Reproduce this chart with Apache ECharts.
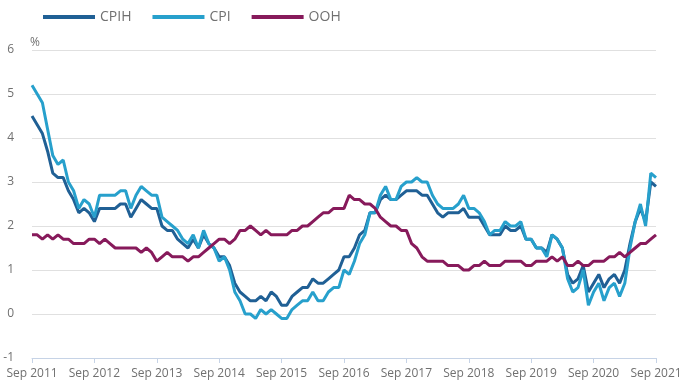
<!DOCTYPE html>
<html>
<head>
<meta charset="utf-8">
<script src="https://cdn.jsdelivr.net/npm/echarts@6/dist/echarts.min.js"></script>
<style>
html,body{margin:0;padding:0;background:#fff;}
#chart{width:699px;height:388px;}
</style>
</head>
<body>
<div id="chart"></div>
<script>
// Month categories Sep 2011 .. Sep 2021
const monthNames = ['Jan','Feb','Mar','Apr','May','Jun','Jul','Aug','Sep','Oct','Nov','Dec'];
const startYear = 2011, startMonth = 8, monthCount = 121;
const categories = [];
for (let i = 0; i < monthCount; i++) {
  const m = (startMonth + i) % 12;
  const y = startYear + Math.floor((startMonth + i) / 12);
  categories.push(monthNames[m] + ' ' + y);
}
const tickLabels = ['Sep 2011','Sep 2012','Sep 2013','Sep 2014','Sep 2015','Sep 2016','Sep 2017','Sep 2018','Sep 2019','Sep 2020','Sep 2021'];
const yTicks = [-1, 0, 1, 2, 3, 4, 5, 6];

const cpih = [
  4.5, 4.3, 4.1, 3.7,
  3.2, 3.1, 3.1, 2.8, 2.6, 2.3, 2.4, 2.3, 2.1, 2.4, 2.4, 2.4,
  2.4, 2.5, 2.5, 2.2, 2.4, 2.6, 2.5, 2.4, 2.4, 2.0, 1.9, 1.9,
  1.7, 1.6, 1.5, 1.7, 1.5, 1.8, 1.6, 1.5, 1.3, 1.3, 1.1, 0.7,
  0.5, 0.4, 0.3, 0.3, 0.4, 0.3, 0.5, 0.4, 0.2, 0.2, 0.4, 0.5,
  0.6, 0.6, 0.8, 0.7, 0.7, 0.8, 0.9, 1.0, 1.3, 1.3, 1.5, 1.8,
  1.9, 2.3, 2.3, 2.6, 2.7, 2.6, 2.6, 2.7, 2.8, 2.8, 2.8, 2.7,
  2.7, 2.5, 2.3, 2.2, 2.3, 2.3, 2.3, 2.4, 2.2, 2.2, 2.2, 2.0,
  1.8, 1.8, 1.8, 2.0, 1.9, 1.9, 2.0, 1.7, 1.7, 1.5, 1.5, 1.4,
  1.8, 1.7, 1.5, 0.9, 0.7, 0.8, 1.1, 0.5, 0.7, 0.9, 0.6, 0.8,
  0.9, 0.7, 1.0, 1.6, 2.1, 2.4, 2.1, 3.0, 2.9
];
const cpi = [
  5.2, 5.0, 4.8, 4.2,
  3.6, 3.4, 3.5, 3.0, 2.8, 2.4, 2.6, 2.5, 2.2, 2.7, 2.7, 2.7,
  2.7, 2.8, 2.8, 2.4, 2.7, 2.9, 2.8, 2.7, 2.7, 2.2, 2.1, 2.0,
  1.9, 1.7, 1.6, 1.8, 1.5, 1.9, 1.6, 1.5, 1.2, 1.3, 1.0, 0.5,
  0.3, 0.0, 0.0, -0.1, 0.1, 0.0, 0.1, 0.0, -0.1, -0.1, 0.1, 0.2,
  0.3, 0.3, 0.5, 0.3, 0.3, 0.5, 0.6, 0.6, 1.0, 0.9, 1.2, 1.6,
  1.8, 2.3, 2.3, 2.7, 2.9, 2.6, 2.6, 2.9, 3.0, 3.0, 3.1, 3.0,
  3.0, 2.7, 2.5, 2.4, 2.4, 2.4, 2.5, 2.7, 2.4, 2.4, 2.3, 2.1,
  1.8, 1.9, 1.9, 2.1, 2.0, 2.0, 2.1, 1.7, 1.7, 1.5, 1.5, 1.3,
  1.8, 1.7, 1.5, 0.8, 0.5, 0.6, 1.0, 0.2, 0.5, 0.7, 0.3, 0.6,
  0.7, 0.4, 0.7, 1.5, 2.1, 2.5, 2.0, 3.2, 3.1
];
const ooh = [
  1.8, 1.8, 1.7, 1.8,
  1.7, 1.8, 1.7, 1.7, 1.6, 1.6, 1.6, 1.7, 1.7, 1.6, 1.7, 1.6,
  1.5, 1.5, 1.5, 1.5, 1.5, 1.4, 1.5, 1.4, 1.2, 1.3, 1.4, 1.3,
  1.3, 1.3, 1.2, 1.3, 1.3, 1.4, 1.5, 1.6, 1.7, 1.7, 1.6, 1.7,
  1.9, 1.9, 2.0, 1.9, 1.8, 1.9, 1.8, 1.8, 1.8, 1.8, 1.9, 1.9,
  2.0, 2.0, 2.1, 2.2, 2.3, 2.3, 2.4, 2.4, 2.4, 2.7, 2.6, 2.6,
  2.5, 2.5, 2.4, 2.2, 2.1, 2.0, 2.0, 1.9, 1.9, 1.6, 1.5, 1.3,
  1.2, 1.2, 1.2, 1.2, 1.1, 1.1, 1.1, 1.0, 1.0, 1.1, 1.1, 1.2,
  1.1, 1.1, 1.1, 1.2, 1.2, 1.2, 1.2, 1.1, 1.1, 1.2, 1.2, 1.2,
  1.3, 1.2, 1.3, 1.1, 1.1, 1.2, 1.1, 1.1, 1.2, 1.2, 1.2, 1.3,
  1.3, 1.4, 1.3, 1.4, 1.5, 1.6, 1.6, 1.7, 1.8
];

const textColor = '#707070';
const font = '"Open Sans", "Noto Sans", sans-serif';

const chart = echarts.init(document.getElementById('chart'), null, {renderer: 'canvas'});
chart.setOption({
  animation: false,
  backgroundColor: '#ffffff',
  textStyle: {fontFamily: font},
  color: ['#206095', '#27a0cc', '#871a5b'],
  legend: {
    left: 43, top: 10, padding: 0,
    icon: 'rect', itemWidth: 52, itemHeight: 4, itemGap: 21,
    textStyle: {color: textColor, fontSize: 14, fontFamily: font},
    data: ['CPIH', 'CPI', 'OOH']
  },
  graphic: [{
    type: 'text', left: 30, top: 37,
    style: {text: '%', fill: textColor, font: '12px ' + font}
  }],
  grid: {left: 32, right: 43, top: 50, bottom: 30, containLabel: false},
  xAxis: {
    type: 'category',
    data: categories,
    boundaryGap: false,
    axisLine: {onZero: false, lineStyle: {color: '#c6d3e6', width: 1}},
    axisTick: {show: true, interval: 11, length: 5, lineStyle: {color: '#c6d3e6'}},
    axisLabel: {
      interval: 11, color: textColor, fontSize: 12, margin: 10,
      formatter: v => tickLabels.indexOf(v) >= 0 ? v : ''
    },
    splitLine: {show: false}
  },
  yAxis: {
    type: 'value',
    min: yTicks[0], max: yTicks[yTicks.length - 1], interval: 1,
    axisLine: {show: false},
    axisTick: {show: false},
    axisLabel: {color: textColor, fontSize: 12, margin: 18},
    splitLine: {lineStyle: {color: '#e0e0e0', width: 1}}
  },
  series: [
    {name: 'CPIH', type: 'line', data: cpih, showSymbol: false, lineStyle: {width: 3}, z: 2},
    {name: 'CPI', type: 'line', data: cpi, showSymbol: false, lineStyle: {width: 3}, z: 3},
    {name: 'OOH', type: 'line', data: ooh, showSymbol: false, lineStyle: {width: 3}, z: 4}
  ]
});
</script>
</body>
</html>
